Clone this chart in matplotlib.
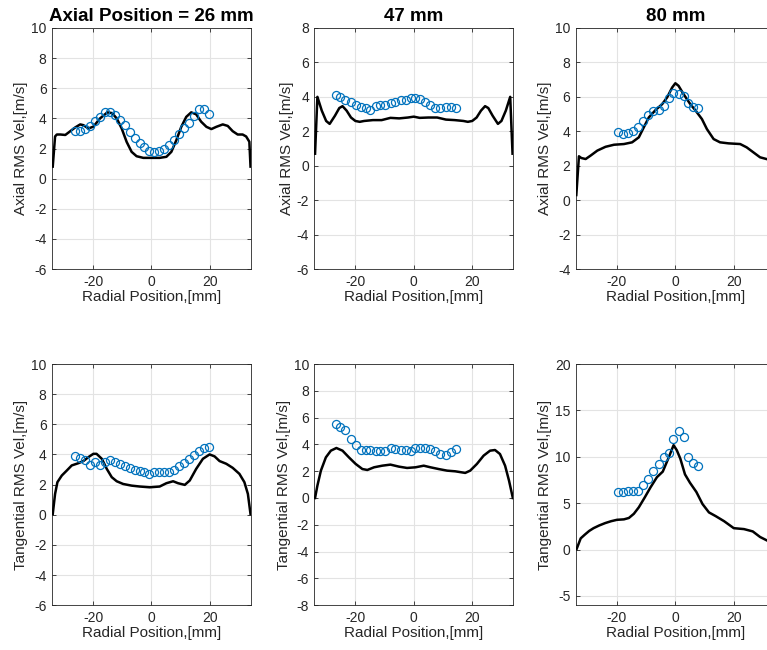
import matplotlib
matplotlib.use("Agg")
import matplotlib.pyplot as plt

plt.rcParams["font.family"] = ["Liberation Sans", "DejaVu Sans"]
plt.rcParams["axes.unicode_minus"] = False

# measured (circles) radial positions, mm
x_meas_26 = [-26.2, -24.4, -22.7, -21.0, -19.2, -17.6, -16.0, -14.3, -12.5, -10.8,
             -9.1, -7.5, -5.8, -4.1, -2.5, -0.8, 0.9, 2.6, 4.3, 6.0,
             7.7, 9.5, 11.1, 12.8, 14.6, 16.2, 17.9, 19.8]
x_meas_47 = [-26.8, -25.1, -23.4, -21.4, -19.7, -18.0, -16.5, -15.0, -13.0, -11.4,
             -9.8, -7.9, -6.3, -4.5, -2.8, -1.1, 0.5, 2.2, 4.0, 5.7,
             7.4, 9.1, 11.0, 12.7, 14.4]
x_meas_80 = [-19.7, -18.0, -16.25, -14.4, -12.8, -11.0, -9.4, -7.7, -5.7, -4.0,
             -2.3, -0.8, 1.25, 2.8, 4.5, 6.0, 7.6]

# measured RMS velocities, m/s
axial_meas_26 = [3.18, 3.18, 3.3, 3.52, 3.8, 4.09, 4.4, 4.42, 4.25, 3.92,
                 3.54, 3.1, 2.7, 2.37, 2.1, 1.81, 1.75, 1.81, 1.99, 2.26,
                 2.59, 2.96, 3.36, 3.69, 4.14, 4.62, 4.62, 4.29]
axial_meas_47 = [4.12, 3.98, 3.84, 3.69, 3.53, 3.40, 3.34, 3.26, 3.44, 3.50,
                 3.50, 3.65, 3.73, 3.79, 3.84, 3.92, 3.94, 3.88, 3.73, 3.50,
                 3.36, 3.36, 3.40, 3.40, 3.36]
axial_meas_80 = [3.98, 3.84, 3.90, 4.04, 4.27, 4.58, 4.94, 5.19, 5.25, 5.46,
                 5.91, 6.24, 6.16, 6.04, 5.64, 5.42, 5.35]
tang_meas_26 = [3.87, 3.76, 3.6, 3.27, 3.49, 3.27, 3.53, 3.6, 3.49, 3.38,
                3.22, 3.09, 2.98, 2.89, 2.82, 2.71, 2.82, 2.82, 2.82, 2.82,
                2.98, 3.2, 3.42, 3.71, 3.98, 4.2, 4.45, 4.5]
tang_meas_47 = [5.5, 5.32, 5.05, 4.43, 3.92, 3.56, 3.56, 3.56, 3.5, 3.5,
                3.5, 3.7, 3.68, 3.6, 3.6, 3.5, 3.7, 3.7, 3.7, 3.63,
                3.52, 3.3, 3.18, 3.4, 3.68]
tang_meas_80 = [6.25, 6.25, 6.36, 6.36, 6.36, 6.91, 7.6, 8.44, 9.24, 10.0,
                10.44, 11.96, 12.73, 12.15, 10.0, 9.35, 8.98]

# simulation (black lines)
x_sim_a26 = [-33.8, -33.0, -32.4, -31.2, -29.5, -27.8, -26.1, -24.4, -23.3, -21.6,
             -19.9, -17.6, -15.1, -13.5, -11.9, -10.2, -8.5, -6.8, -5.1, -2.8,
             0.0, 2.8, 5.1, 6.8, 8.5, 10.2, 11.9, 13.6, 15.3, 17.0,
             18.8, 20.5, 22.2, 24.4, 26.1, 27.8, 29.5, 31.2, 32.4, 33.5, 33.9]
axial_sim_26 = [0.8, 2.8, 2.93, 2.93, 2.9, 3.15, 3.4, 3.6, 3.55, 3.33,
                3.45, 4.0, 4.4, 4.35, 4.0, 3.33, 2.44, 1.78, 1.49, 1.38,
                1.38, 1.38, 1.45, 1.78, 2.55, 3.44, 4.1, 4.4, 4.27, 3.78,
                3.44, 3.29, 3.44, 3.6, 3.5, 3.15, 2.93, 2.93, 2.8, 2.45, 0.8]

x_sim_a47 = [-33.8, -33.0, -31.5, -30.0, -28.8, -27.0, -25.5, -24.4, -23.0, -21.5,
             -20.0, -18.5, -17.0, -14.0, -11.0, -8.0, -5.0, -2.0, 0.0, 2.0,
             5.0, 8.0, 11.0, 14.0, 17.0, 18.5, 20.0, 21.5, 23.0, 24.4,
             25.5, 27.0, 28.8, 30.0, 31.5, 33.0, 33.8]
axial_sim_47 = [0.7, 4.0, 3.2, 2.6, 2.43, 2.9, 3.35, 3.46, 3.2, 2.8,
                2.6, 2.55, 2.6, 2.65, 2.65, 2.78, 2.75, 2.8, 2.85, 2.78,
                2.8, 2.8, 2.68, 2.65, 2.6, 2.55, 2.6, 2.8, 3.2, 3.46,
                3.35, 2.9, 2.43, 2.6, 3.2, 4.0, 0.7]

x_sim_a80 = [-33.9, -33.0, -32.2, -30.7, -29.0, -26.7, -23.9, -21.0, -17.6, -14.8,
             -12.5, -10.8, -9.1, -6.8, -4.5, -2.8, -1.1, 0.0, 1.1, 2.8,
             5.1, 6.8, 9.1, 10.8, 13.1, 15.3, 18.2, 22.2, 24.4, 26.7,
             29.0, 31.2]
axial_sim_80 = [0.3, 2.55, 2.45, 2.39, 2.59, 2.88, 3.1, 3.22, 3.26, 3.36,
                3.65, 4.23, 4.8, 5.23, 5.58, 5.97, 6.54, 6.79, 6.64, 6.16,
                5.58, 5.23, 4.71, 4.13, 3.55, 3.36, 3.30, 3.26, 3.07, 2.78,
                2.49, 2.39]

x_sim_t26 = [-33.8, -33.0, -32.2, -30.7, -29.0, -27.3, -25.0, -23.3, -21.6, -19.9,
             -18.8, -17.0, -15.3, -13.6, -11.9, -9.7, -6.8, -4.0, -0.6, 2.8,
             5.1, 7.4, 9.1, 11.4, 13.1, 15.3, 17.6, 19.9, 21.6, 23.3,
             25.6, 27.8, 30.1, 31.8, 33.0, 33.9]
tang_sim_26 = [0.04, 1.38, 2.16, 2.6, 2.93, 3.27, 3.42, 3.56, 3.82, 4.04,
               4.04, 3.71, 3.04, 2.49, 2.22, 2.04, 1.93, 1.87, 1.82, 1.87,
               2.09, 2.22, 2.09, 1.98, 2.27, 3.04, 3.71, 4.0, 3.87, 3.56,
               3.38, 3.11, 2.71, 2.16, 1.38, 0.04]

x_sim_t47 = [-33.8, -33.0, -31.8, -30.1, -28.4, -26.5, -24.4, -22.2, -19.9, -17.6,
             -15.9, -13.6, -10.8, -8.0, -5.1, -2.3, 0.6, 3.4, 5.7, 8.5,
             11.4, 14.2, 17.6, 19.3, 21.6, 23.9, 26.1, 27.8, 29.5, 31.25,
             32.6, 33.9]
tang_sim_47 = [0.0, 0.92, 2.04, 3.03, 3.53, 3.73, 3.53, 3.03, 2.54, 2.16,
               2.09, 2.29, 2.41, 2.49, 2.34, 2.24, 2.29, 2.41, 2.29, 2.16,
               2.04, 1.99, 1.87, 2.04, 2.54, 3.16, 3.53, 3.58, 3.28, 2.41,
               1.29, 0.0]

x_sim_t80 = [-33.8, -32.4, -31.0, -29.5, -28.0, -26.0, -24.0, -22.0, -20.0, -17.6,
             -15.9, -14.2, -12.5, -10.5, -8.5, -6.3, -4.3, -2.3, -0.6, 0.5,
             1.7, 3.3, 5.0, 7.2, 9.3, 11.5, 13.8, 16.7, 20.0, 23.5,
             26.5, 29.0, 31.2]
tang_sim_80 = [0.05, 1.2, 1.6, 2.0, 2.3, 2.6, 2.85, 3.05, 3.2, 3.25,
               3.4, 3.85, 4.55, 5.6, 6.7, 7.8, 8.4, 9.9, 11.25, 10.7,
               9.8, 8.1, 7.2, 6.2, 4.9, 4.0, 3.6, 3.05, 2.3, 2.2,
               1.95, 1.35, 1.0]

titles = ["Axial Position = 26 mm", "47 mm", "80 mm"]
ylabels = ["Axial RMS Vel,[m/s]", "Tangential RMS Vel,[m/s]"]

panels = [
    # (x_sim, y_sim, x_meas, y_meas, ylim, yticks)
    (x_sim_a26, axial_sim_26, x_meas_26, axial_meas_26, (-6, 10), range(-6, 11, 2)),
    (x_sim_a47, axial_sim_47, x_meas_47, axial_meas_47, (-6, 8), range(-6, 9, 2)),
    (x_sim_a80, axial_sim_80, x_meas_80, axial_meas_80, (-4, 10), range(-4, 11, 2)),
    (x_sim_t26, tang_sim_26, x_meas_26, tang_meas_26, (-6, 10), range(-6, 11, 2)),
    (x_sim_t47, tang_sim_47, x_meas_47, tang_meas_47, (-8, 10), range(-8, 11, 2)),
    (x_sim_t80, tang_sim_80, x_meas_80, tang_meas_80, (-6, 20), range(-5, 21, 5)),
]

lefts = [0.068, 0.410, 0.751]
bottoms = [0.586, 0.069]
width, height = 0.259, 0.371

dark = "#262626"
blue = "#0072BD"

fig = plt.figure(figsize=(7.67, 6.5), dpi=100)

for i, (xs, ys, xm, ym, ylim, yticks) in enumerate(panels):
    row, col = divmod(i, 3)
    ax = fig.add_axes([lefts[col], bottoms[row], width, height])
    ax.plot(xs, ys, color="black", lw=1.8, zorder=3)
    ax.plot(xm, ym, "o", mfc="none", mec=blue, ms=5.8, mew=0.9, zorder=4)
    ax.set_xlim(-34, 34)
    ax.set_ylim(*ylim)
    ax.set_xticks([-20, 0, 20])
    ax.set_yticks(list(yticks))
    ax.grid(True, color="#e3e3e3", lw=0.8)
    ax.set_axisbelow(True)
    ax.tick_params(direction="in", length=3, width=0.6, top=True, right=True,
                   labelsize=10, colors=dark, pad=4)
    for s in ax.spines.values():
        s.set_color(dark)
        s.set_linewidth(0.6)
    ax.set_xlabel("Radial Position,[mm]", fontsize=11, color=dark, labelpad=1)
    ax.set_ylabel(ylabels[row], fontsize=11, color=dark, labelpad=2)
    if row == 0:
        ax.set_title(titles[col], fontsize=13.5, fontweight="bold", pad=5)

fig.savefig("out.png", dpi=100)
